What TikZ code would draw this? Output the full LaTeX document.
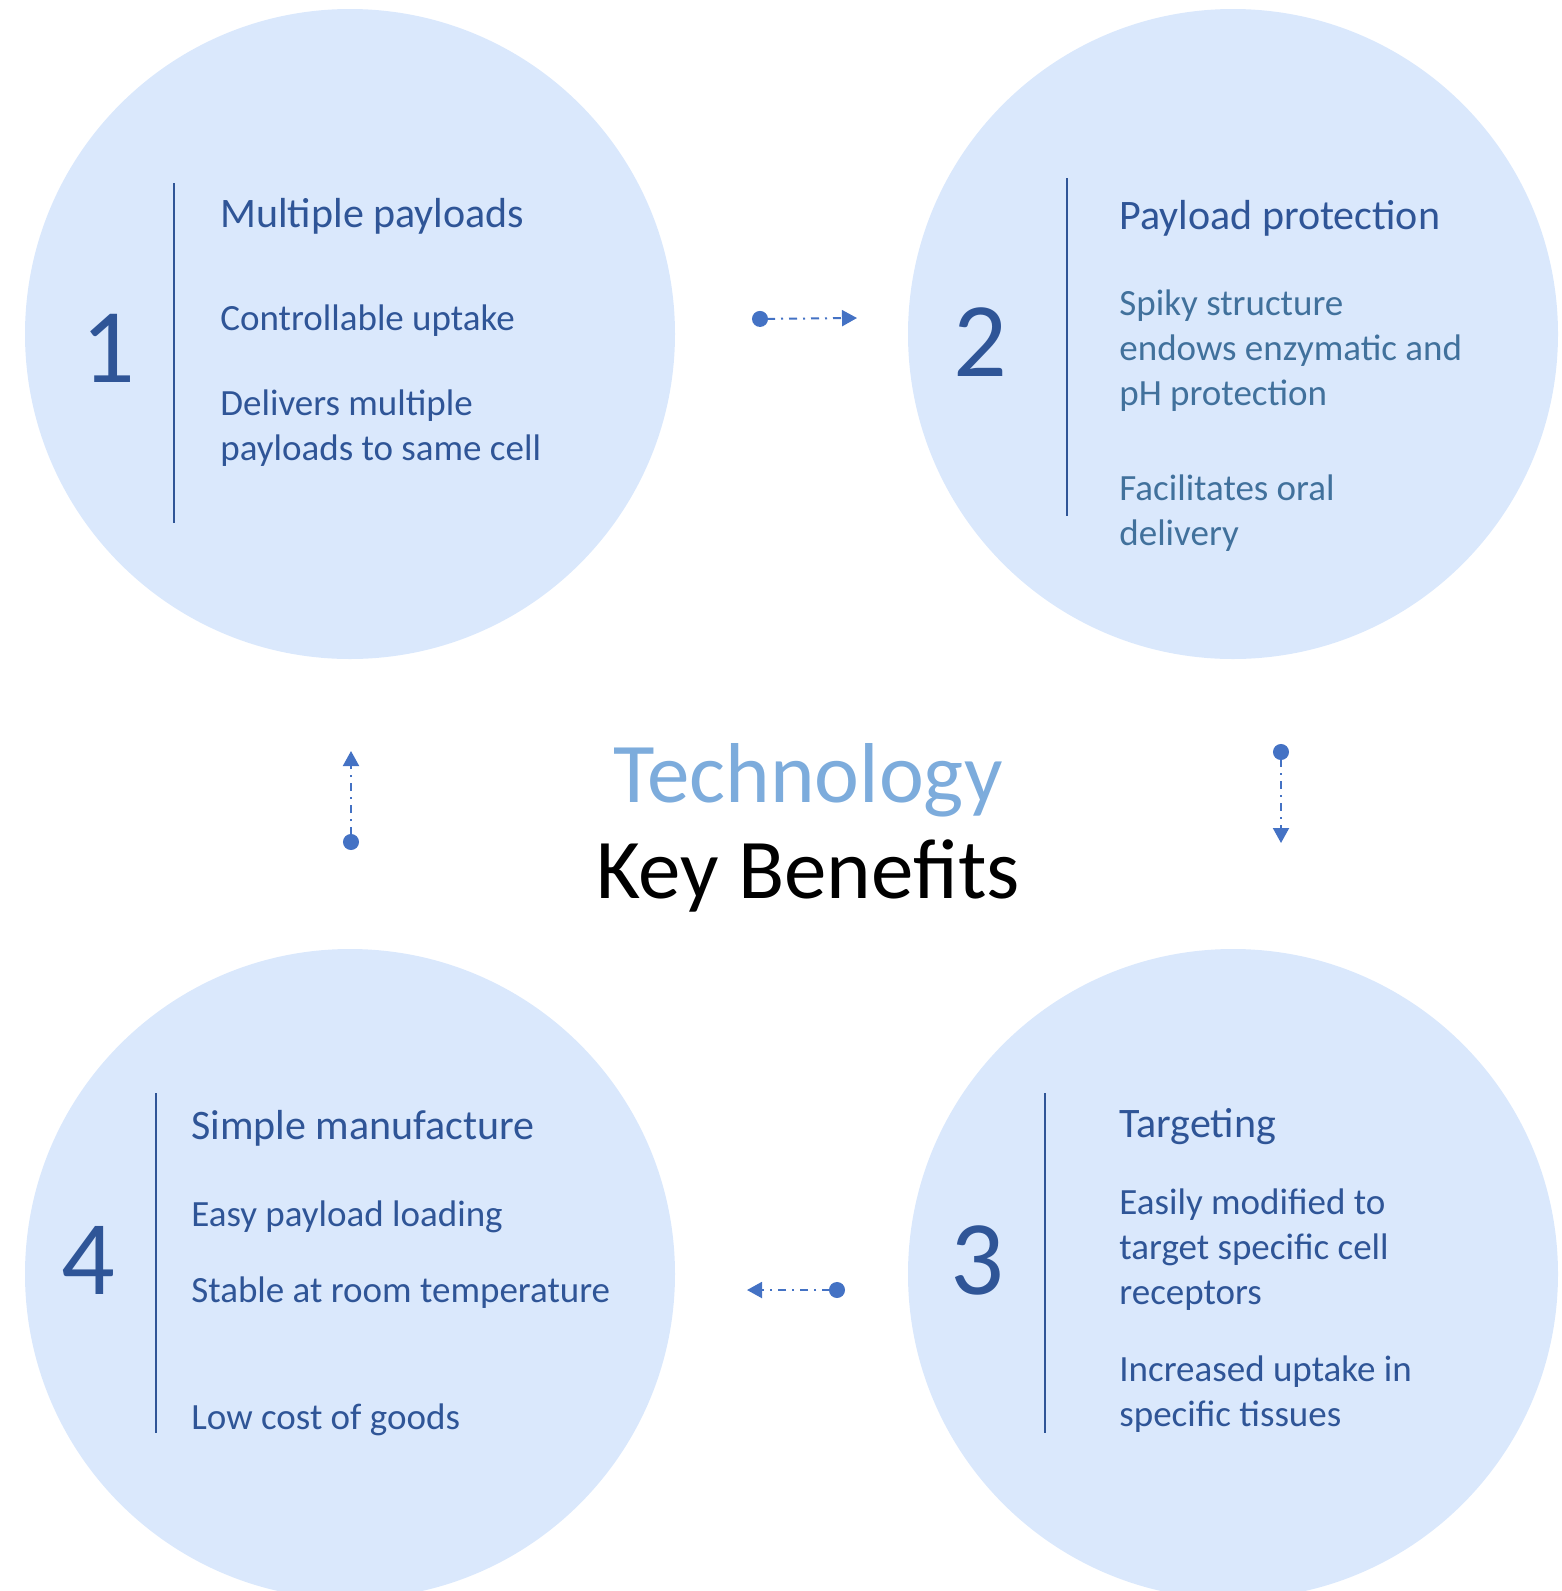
\documentclass[tikz,border=0pt]{standalone}
\usepackage{fontspec}
\setmainfont{Carlito}
\usepackage{xcolor}
\usetikzlibrary{arrows.meta}

\definecolor{bubblefill}{RGB}{218,232,252}
\definecolor{deepblue}{RGB}{47,85,151}
\definecolor{steelblue}{RGB}{65,113,156}
\definecolor{techblue}{RGB}{125,172,220}
\definecolor{linkblue}{RGB}{68,114,196}

\tikzset{
  bubble/.style={circle,fill=bubblefill,minimum size=650*0.5pt,inner sep=0pt},
  bignum/.style={text=deepblue,font=\fontsize{53}{60}\selectfont,anchor=base},
  headline/.style={text=deepblue,font=\fontsize{21}{25}\selectfont,anchor=base west,inner sep=0pt},
  bodytext/.style={text=deepblue,font=\fontsize{18.5}{22.5}\selectfont,anchor=base west,align=left,inner sep=0pt},
  divider/.style={deepblue,line width=1.2pt},
  link/.style={linkblue,line width=1pt,dash pattern=on 4pt off 3pt on 1pt off 3pt,
    {Circle[length=8pt]}-{Triangle[length=7.5pt,width=8pt]}}
}

\begin{document}
\begin{tikzpicture}[x=0.5pt,y=-0.5pt]
\useasboundingbox (0,0) rectangle (1562,1591);
\clip (0,0) rectangle (1562,1591);

% Kreise
\node[bubble] (c1) at (350,334) {};
\node[bubble] (c2) at (1233,334) {};
\node[bubble] (c3) at (1233,1274) {};
\node[bubble] (c4) at (350,1274) {};

% Kreis 1
\node[bignum] (n1) at (108,382) {1};
\draw[divider] (174,183) -- (174,523);
\node[headline] (h1) at (220,227) {Multiple payloads};
\node[bodytext] (b1a) at (220,330) {Controllable uptake};
\node[bodytext] (b1b) at (220,460) {Delivers multiple\\payloads to same cell};

% Kreis 2
\node[bignum] (n2) at (980,376) {2};
\draw[divider] (1067,178) -- (1067,516);
\node[headline] (h2) at (1119,229) {Payload protection};
\node[bodytext,text=steelblue] (b2a) at (1119,405) {Spiky structure\\endows enzymatic and\\pH protection};
\node[bodytext,text=steelblue] (b2b) at (1119,545) {Facilitates oral\\delivery};

% Kreis 3
\node[bignum] (n3) at (977,1294) {3};
\draw[divider] (1045,1093) -- (1045,1433);
\node[headline] (h3) at (1119,1137) {Targeting};
\node[bodytext] (b3a) at (1119,1304) {Easily modified to\\target specific cell\\receptors};
\node[bodytext] (b3b) at (1119,1426) {Increased uptake in\\specific tissues};

% Kreis 4
\node[bignum] (n4) at (88,1294) {4};
\draw[divider] (156,1093) -- (156,1433);
\node[headline] (h4) at (191,1139) {Simple manufacture};
\node[bodytext] (b4a) at (191,1226) {Easy payload loading};
\node[bodytext] (b4b) at (191,1302) {Stable at room temperature};
\node[bodytext] (b4c) at (191,1429) {Low cost of goods};

% Titel
\node[text=techblue,font=\fontsize{42.5}{48}\selectfont,anchor=base] (tech) at (808,802) {Technology};
\node[text=black,font=\fontsize{42.5}{48}\selectfont,anchor=base] (keyb) at (808,898) {Key Benefits};

% Pfeile
\coordinate (p12) at (752,319);  \coordinate (q12) at (857,318);
\coordinate (p23) at (1281,744); \coordinate (q23) at (1281,843);
\coordinate (p34) at (845,1290); \coordinate (q34) at (747,1290);
\coordinate (p41) at (351,850);  \coordinate (q41) at (351,751);
\draw[link] (p12) -- (q12);
\draw[link] (p23) -- (q23);
\draw[link] (p34) -- (q34);
\draw[link] (p41) -- (q41);

\end{tikzpicture}
\end{document}
